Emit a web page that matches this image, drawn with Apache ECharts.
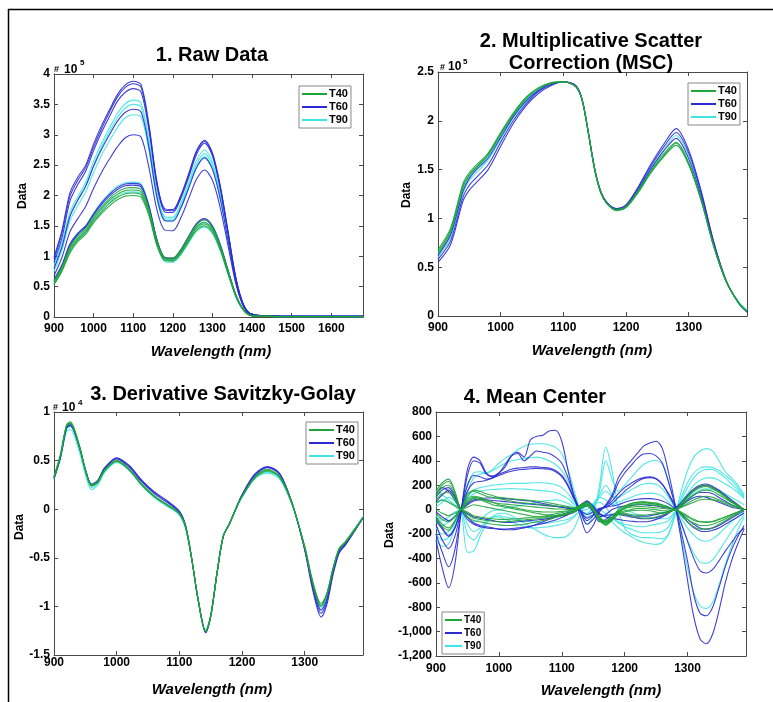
<!DOCTYPE html>
<html><head><meta charset="utf-8">
<script src="https://cdn.jsdelivr.net/npm/echarts/dist/echarts.min.js"></script>
<style>html,body{margin:0;padding:0;background:#fff}#c{width:773px;height:702px}</style>
</head><body><div id="c"></div>
<script>
// ---------- Panel 1: Raw data (units of 1e5) ----------
const wlRaw = [900,920,940,960,980,1000,1020,1040,1060,1080,1100,1120,1140,1160,1180,1200,1220,1240,1260,1280,1300,1320,1340,1360,1380,1400,1440,1500,1600,1680];
const rawB1 = [0.99,1.42,2.04,2.3,2.5,2.85,3.15,3.41,3.66,3.82,3.88,3.82,3.15,2.22,1.78,1.77,2.0,2.36,2.74,2.91,2.7,2.15,1.38,0.62,0.18,0.04,0.02,0.01,0.01,0.01];
const rawB2 = [0.95,1.38,1.98,2.25,2.46,2.8,3.1,3.37,3.62,3.78,3.84,3.78,3.12,2.2,1.76,1.75,1.98,2.34,2.72,2.89,2.68,2.13,1.37,0.61,0.18,0.04,0.02,0.01,0.01,0.01];
const rawB3 = [0.9,1.3,1.9,2.18,2.4,2.74,3.04,3.3,3.55,3.7,3.76,3.7,3.06,2.16,1.73,1.72,1.95,2.3,2.68,2.86,2.65,2.1,1.35,0.6,0.17,0.04,0.02,0.01,0.01,0.01];
const rawB4 = [0.8,1.15,1.65,1.92,2.15,2.48,2.76,3.0,3.22,3.37,3.42,3.37,2.78,1.97,1.59,1.58,1.79,2.12,2.46,2.62,2.43,1.93,1.24,0.55,0.16,0.04,0.02,0.01,0.01,0.01];
const rawB5 = [0.68,0.98,1.4,1.62,1.82,2.12,2.38,2.6,2.8,2.95,3.0,2.96,2.45,1.76,1.43,1.42,1.63,1.95,2.27,2.42,2.25,1.79,1.15,0.52,0.15,0.04,0.02,0.01,0.01,0.01];
const rawB6 = [0.6,0.84,1.17,1.36,1.48,1.68,1.85,1.99,2.1,2.16,2.17,2.14,1.8,1.26,0.98,0.97,1.11,1.33,1.54,1.62,1.5,1.19,0.76,0.35,0.11,0.02,0.01,0.005,0.005,0.005];
const rawB7 = [0.62,0.86,1.2,1.38,1.5,1.7,1.88,2.02,2.13,2.19,2.2,2.17,1.82,1.27,0.97,0.96,1.1,1.32,1.53,1.6,1.48,1.17,0.75,0.34,0.1,0.02,0.01,0.005,0.005,0.005];
const rawC1 = [0.85,1.22,1.72,1.98,2.22,2.56,2.86,3.11,3.35,3.51,3.57,3.52,2.9,2.05,1.65,1.64,1.87,2.22,2.58,2.75,2.55,2.03,1.31,0.58,0.17,0.04,0.02,0.01,0.01,0.01];
const rawC2 = [0.8,1.17,1.67,1.93,2.17,2.5,2.8,3.05,3.28,3.44,3.5,3.45,2.85,2.02,1.62,1.61,1.83,2.17,2.52,2.69,2.5,1.99,1.28,0.57,0.17,0.04,0.02,0.01,0.01,0.01];
const rawC3 = [0.75,1.1,1.58,1.83,2.06,2.38,2.66,2.9,3.12,3.28,3.33,3.29,2.72,1.94,1.58,1.58,1.8,2.13,2.47,2.64,2.45,1.95,1.26,0.56,0.16,0.04,0.02,0.01,0.01,0.01];
const rawC4 = [0.58,0.82,1.16,1.36,1.5,1.71,1.89,2.04,2.15,2.21,2.22,2.19,1.83,1.27,0.96,0.94,1.07,1.28,1.48,1.55,1.44,1.13,0.72,0.33,0.1,0.02,0.01,0.005,0.005,0.005];
const rawC5 = [0.55,0.78,1.1,1.28,1.4,1.6,1.75,1.89,1.99,2.05,2.06,2.03,1.7,1.18,0.91,0.9,1.02,1.22,1.41,1.48,1.37,1.08,0.69,0.32,0.1,0.02,0.01,0.005,0.005,0.005];
const rawG1 = [0.53,0.75,1.05,1.24,1.36,1.55,1.7,1.83,1.93,1.99,2.0,1.97,1.66,1.17,0.93,0.92,1.04,1.24,1.43,1.5,1.39,1.1,0.7,0.32,0.1,0.02,0.01,0.005,0.005,0.005];
const rawG2 = [0.55,0.77,1.08,1.27,1.39,1.58,1.73,1.87,1.97,2.03,2.04,2.01,1.7,1.19,0.94,0.93,1.06,1.26,1.46,1.53,1.42,1.12,0.71,0.33,0.1,0.02,0.01,0.005,0.005,0.005];
const rawG3 = [0.57,0.8,1.12,1.3,1.42,1.62,1.78,1.92,2.02,2.08,2.09,2.06,1.74,1.22,0.96,0.95,1.08,1.29,1.49,1.56,1.45,1.14,0.73,0.34,0.1,0.02,0.01,0.005,0.005,0.005];
const rawG4 = [0.6,0.83,1.15,1.33,1.45,1.65,1.81,1.95,2.06,2.12,2.13,2.1,1.77,1.25,0.98,0.97,1.1,1.32,1.52,1.6,1.48,1.17,0.75,0.35,0.11,0.02,0.01,0.005,0.005,0.005];

// ---------- Panel 2: MSC (units of 1e5) ----------
const wlMsc = [900,920,940,950,960,980,1000,1020,1040,1060,1080,1100,1120,1130,1140,1150,1160,1170,1185,1200,1220,1240,1260,1280,1300,1320,1340,1360,1380,1393];
const mscG1 = [0.68,0.9,1.36,1.47,1.54,1.67,1.88,2.08,2.24,2.34,2.39,2.4,2.35,2.21,1.87,1.5,1.26,1.15,1.08,1.11,1.27,1.47,1.63,1.75,1.55,1.18,0.71,0.35,0.13,0.05];
const mscG2 = [0.66,0.88,1.34,1.45,1.52,1.66,1.87,2.07,2.23,2.33,2.39,2.4,2.35,2.21,1.87,1.5,1.26,1.15,1.09,1.12,1.28,1.48,1.64,1.77,1.56,1.19,0.71,0.35,0.13,0.05];
const mscG3 = [0.64,0.86,1.32,1.44,1.51,1.65,1.86,2.06,2.22,2.33,2.38,2.4,2.35,2.21,1.87,1.5,1.26,1.15,1.09,1.12,1.29,1.49,1.66,1.78,1.57,1.19,0.72,0.35,0.13,0.05];
const mscB1 = [0.55,0.73,1.18,1.29,1.36,1.5,1.74,1.97,2.15,2.28,2.36,2.4,2.36,2.22,1.88,1.51,1.27,1.16,1.1,1.14,1.33,1.56,1.76,1.92,1.7,1.28,0.76,0.36,0.13,0.04];
const mscB2 = [0.58,0.77,1.22,1.34,1.41,1.55,1.78,2.0,2.17,2.3,2.37,2.4,2.36,2.22,1.88,1.51,1.27,1.16,1.1,1.13,1.32,1.54,1.73,1.88,1.67,1.26,0.75,0.36,0.13,0.04];
const mscB3 = [0.62,0.83,1.28,1.41,1.49,1.62,1.83,2.04,2.2,2.31,2.38,2.4,2.35,2.21,1.87,1.5,1.26,1.15,1.09,1.12,1.3,1.51,1.69,1.82,1.61,1.22,0.73,0.35,0.13,0.05];
const mscC1 = [0.6,0.8,1.26,1.39,1.46,1.6,1.81,2.03,2.19,2.31,2.37,2.4,2.35,2.21,1.87,1.5,1.26,1.15,1.09,1.12,1.3,1.52,1.7,1.85,1.64,1.24,0.74,0.36,0.14,0.06];
const mscC2 = [0.63,0.85,1.3,1.43,1.5,1.64,1.85,2.05,2.21,2.32,2.38,2.4,2.35,2.21,1.87,1.5,1.26,1.15,1.08,1.11,1.27,1.47,1.64,1.75,1.55,1.18,0.71,0.35,0.14,0.06];

// ---------- Panel 3: Savitzky-Golay derivative (units of 1e4) ----------
const wlDer = [900,910,920,926,940,950,960,970,980,1000,1020,1040,1060,1080,1100,1110,1120,1130,1142,1150,1160,1170,1180,1190,1200,1220,1240,1260,1280,1300,1310,1320,1326,1335,1345,1355,1365,1380,1393];
const derG1 = [0.34,0.56,0.87,0.9,0.67,0.41,0.25,0.29,0.4,0.5,0.41,0.25,0.13,0.04,-0.05,-0.19,-0.53,-0.94,-1.26,-1.1,-0.66,-0.28,-0.15,0.0,0.13,0.32,0.4,0.33,0.05,-0.38,-0.67,-0.9,-0.97,-0.87,-0.61,-0.4,-0.33,-0.2,-0.08];
const derG2 = [0.33,0.55,0.86,0.89,0.66,0.4,0.24,0.28,0.39,0.49,0.4,0.25,0.13,0.05,-0.05,-0.19,-0.52,-0.93,-1.25,-1.1,-0.66,-0.28,-0.15,0.0,0.13,0.32,0.39,0.33,0.05,-0.39,-0.68,-0.92,-0.99,-0.88,-0.62,-0.41,-0.34,-0.21,-0.08];
const derG3 = [0.32,0.54,0.85,0.88,0.65,0.4,0.24,0.27,0.39,0.5,0.41,0.26,0.14,0.05,-0.04,-0.18,-0.52,-0.93,-1.26,-1.1,-0.66,-0.28,-0.15,0.0,0.13,0.33,0.41,0.34,0.06,-0.39,-0.69,-0.93,-1.0,-0.89,-0.62,-0.41,-0.34,-0.21,-0.09];
const derB1 = [0.31,0.52,0.83,0.86,0.65,0.41,0.26,0.3,0.42,0.53,0.45,0.3,0.18,0.09,-0.02,-0.17,-0.52,-0.94,-1.27,-1.11,-0.67,-0.28,-0.15,0.01,0.15,0.36,0.44,0.37,0.06,-0.42,-0.75,-1.02,-1.11,-0.99,-0.68,-0.45,-0.37,-0.22,-0.09];
const derB2 = [0.32,0.53,0.84,0.87,0.65,0.41,0.25,0.29,0.41,0.52,0.44,0.29,0.17,0.08,-0.03,-0.17,-0.52,-0.93,-1.27,-1.1,-0.66,-0.28,-0.15,0.0,0.14,0.35,0.43,0.36,0.06,-0.41,-0.73,-0.99,-1.07,-0.96,-0.66,-0.44,-0.36,-0.22,-0.09];
const derB3 = [0.33,0.54,0.85,0.88,0.66,0.41,0.25,0.29,0.41,0.52,0.43,0.28,0.16,0.07,-0.03,-0.18,-0.52,-0.93,-1.26,-1.1,-0.66,-0.28,-0.15,0.0,0.14,0.34,0.43,0.36,0.06,-0.4,-0.71,-0.96,-1.04,-0.93,-0.65,-0.43,-0.35,-0.21,-0.09];
const derC1 = [0.31,0.51,0.8,0.82,0.6,0.36,0.2,0.25,0.37,0.48,0.4,0.24,0.12,0.03,-0.06,-0.2,-0.53,-0.93,-1.25,-1.09,-0.65,-0.27,-0.14,0.0,0.12,0.31,0.37,0.31,0.04,-0.39,-0.68,-0.92,-0.99,-0.88,-0.62,-0.41,-0.34,-0.2,-0.08];
const derC2 = [0.32,0.53,0.83,0.85,0.63,0.38,0.22,0.27,0.38,0.49,0.41,0.25,0.13,0.04,-0.05,-0.19,-0.52,-0.93,-1.25,-1.1,-0.66,-0.28,-0.15,0.0,0.13,0.32,0.38,0.32,0.05,-0.4,-0.7,-0.95,-1.02,-0.91,-0.64,-0.42,-0.35,-0.21,-0.09];

// ---------- Panel 4: Mean center ----------
const wlMc = [900,910,920,930,940,950,960,970,980,990,1000,1010,1020,1030,1040,1050,1060,1070,1080,1090,1100,1110,1120,1130,1140,1150,1160,1170,1180,1190,1200,1210,1220,1230,1240,1250,1260,1270,1280,1290,1300,1310,1320,1330,1340,1350,1360,1370,1380,1390];
const mcB1 = [-250,-480,-640,-450,-20, 330,430,400,300,275, 300,350,440,470,430, 570,600,610,645,650, 560,320,100,-60,-190, -130,-20,40,120,260, 340,400,460,520,545, 560,500,300,50,-250, -580,-880,-1060,-1100,-1020, -830,-600,-420,-280,-160];
const mcB2 = [-200,-350,-468,-330,-10, 280,400,380,290,270, 300,370,440,460,400, 440,480,470,460,430, 380,260,110,-20,-120, -80,-10,30,100,220, 300,360,420,455,460, 440,380,220,40,-180, -420,-700,-850,-870,-800, -640,-470,-330,-220,-130];
const mcB3 = [-120,-250,-320,-220,0, 200,280,270,250,260, 290,310,330,340,345, 350,350,345,340,320, 280,200,90,-10,-90, -50,0,30,70,130, 180,215,245,262,268, 255,210,120,20,-110, -260,-400,-500,-520,-490, -420,-340,-270,-200,-150];
const mcB4 = [-60,-150,-210,-150,0, 150,220,230,240,260, 280,300,315,325,330, 335,338,335,330,310, 270,190,80,-10,-70, -40,0,20,50,100, 150,190,230,255,262, 250,205,130,40,-40, -100,-150,-175,-180,-170, -150,-120,-90,-60,-30];
const mcB5 = [100,160,180,110,0, -80,-120,-140,-150,-155, -160,-160,-155,-150,-145, -135,-125,-115,-100,-85, -65,-40,-15,20,60, 20,-30,-60,-70,-80, -90,-95,-100,-100,-95, -80,-60,-30,10,60, 120,170,200,210,190, 160,120,80,40,0];
const mcB6 = [130,180,150,80,0, 40,70,80,80,75, 70,65,60,55,50, 45,40,35,30,25, 20,10,5,40,70, 10,-60,-40,0,20, 30,35,40,40,35, 30,20,10,0,40, 80,120,140,140,130, 100,70,40,20,0];
const mcB7 = [-20,-60,-90,-60,0, -60,-110,-130,-140,-150, -160,-165,-165,-160,-150, -140,-120,-100,-80,-60, -50,-40,-20,10,30, -20,-100,-80,-40,-30, -40,-50,-55,-55,-50, -40,-30,-15,0,30, 70,100,110,100,80, 60,40,20,10,0];
const mcB8 = [60,120,160,100,0, -30,-60,-70,-80,-90, -100,-105,-105,-100,-95, -90,-85,-80,-70,-55, -40,-25,-10,25,70, 30,-40,-50,-40,-40, -50,-60,-70,-75,-75, -65,-50,-25,5,50, 110,160,190,200,180, 150,110,70,35,0];
const mcB9 = [-90,-160,-220,-150,0, 50,80,90,95,95, 95,90,85,80,75, 70,60,50,40,30, 20,15,5,-10,-40, -20,10,20,30,40, 60,75,85,90,90, 85,70,45,10,-30, -80,-120,-150,-160,-150, -130,-100,-70,-40,-10];
const mcG1 = [150,220,250,150,0, 130,150,130,110,100, 90,80,70,60,55, 50,45,40,35,30, 25,20,10,30,40, 0,-80,-110,-70,-20, 20,40,50,55,50, 45,35,20,0,40, 100,150,180,190,170, 140,100,60,30,0];
const mcG2 = [100,180,200,120,0, 90,110,100,80,60, 40,30,20,10,0, -10,-15,-20,-20,-20, -15,-10,0,30,60, 10,-70,-130,-90,-30, 10,30,40,45,40, 35,25,15,0,30, 80,120,150,160,150, 120,90,60,30,0];
const mcG3 = [-30,-80,-100,-60,0, -60,-90,-100,-110,-120, -125,-130,-130,-125,-120, -110,-100,-90,-80,-65, -50,-35,-15,20,50, 0,-90,-120,-80,-40, -20,-10,-5,-5,-10, -20,-30,-20,0,-30, -60,-90,-100,-100,-95, -80,-60,-40,-20,0];
const mcG4 = [50,80,60,30,0, 60,90,80,60,40, 30,20,10,0,-10, -20,-30,-40,-45,-50, -45,-35,-20,20,40, 0,-70,-90,-60,-20, 20,50,60,65,60, 55,40,20,0,20, 50,80,100,110,100, 80,60,40,20,0];
const mcG5 = [0,-30,-50,-30,0, 20,40,30,20,10, 0,-10,-20,-30,-40, -50,-60,-60,-55,-50, -40,-30,-15,10,30, 0,-60,-100,-70,-30, -10,0,10,10,5, 0,-10,-10,0,-20, -50,-80,-100,-105,-100, -80,-60,-40,-20,0];
const mcG6 = [120,200,230,140,0, 110,160,150,130,115, 100,95,90,85,80, 75,70,65,55,45, 35,25,15,40,60, 10,-60,-100,-60,0, 30,50,60,60,55, 45,35,20,0,50, 110,160,200,200,180, 150,110,70,35,0];
const mcG7 = [-60,-120,-150,-90,0, -40,-70,-80,-90,-95, -100,-100,-95,-90,-85, -80,-75,-70,-60,-50, -40,-30,-15,15,40, 0,-80,-110,-70,-30, -30,-40,-45,-45,-40, -35,-25,-15,0,-40, -80,-110,-130,-130,-120, -100,-75,-50,-25,0];
const mcG8 = [80,130,140,80,0, 70,100,90,70,60, 50,45,40,35,30, 25,20,15,10,5, 5,0,0,25,45, 5,-70,-100,-60,-10, 10,20,25,25,20, 15,10,5,0,20, 40,60,80,85,80, 70,50,30,15,0];
const mcG9 = [-80,-140,-170,-100,0, -20,-50,-60,-70,-75, -80,-80,-78,-75,-70, -65,-60,-55,-45,-35, -25,-15,-5,20,45, 0,-85,-120,-80,-40, -40,-55,-65,-70,-70, -60,-45,-25,0,-50, -100,-140,-160,-160,-150, -120,-90,-60,-30,0];
const mcC1 = [-150,-200,-180,-100,0, 150,260,290,300,330, 380,420,450,490,520, 535,540,540,530,510, 460,330,150,-20,-120, -50,200,510,320,0, -150,-200,-220,-230,-230, -235,-240,-200,-50,150, 320,430,480,500,480, 400,310,260,200,120];
const mcC2 = [-250,-300,-280,-150,0, 200,300,310,300,320, 350,380,400,410,420, 425,430,420,400,370, 320,230,100,-20,-60, 0,150,400,250,150, 200,260,320,370,395, 405,370,230,30,-220, -480,-680,-790,-810,-760, -620,-450,-300,-170,-60];
const mcC3 = [-200,-250,-230,-120,0, 100,160,180,190,200, 205,210,215,215,215, 218,220,220,215,205, 180,130,60,-10,-40, 20,100,150,110,100, 130,160,190,210,215, 205,170,100,10,-120, -250,-360,-430,-440,-410, -340,-260,-180,-110,-40];
const mcC4 = [50,80,60,30,-20, -350,-340,-220,-120,-60, -30,-30,-50,-80,-110, -140,-170,-200,-220,-230, -230,-210,-150,-30,60, 20,-50,-60,-100,-150, -190,-220,-250,-270,-280, -285,-270,-200,-40,100, 220,300,340,350,345, 320,280,240,180,110];
const mcC5 = [-100,-130,-100,-50,0, 80,130,150,160,165, 168,170,172,170,168, 165,160,155,150,140, 120,90,40,-10,0, 50,100,80,40,60, 80,100,120,130,135, 130,110,60,0,-70, -150,-210,-250,-260,-240, -200,-150,-100,-60,-20];
const mcC6 = [20,60,100,70,0, -200,-250,-180,-100,-60, -60,-80,-100,-120,-140, -150,-150,-145,-140,-130, -120,-100,-60,0,40, 30,0,-30,-70,-110, -140,-160,-180,-190,-190, -190,-180,-140,-30,80, 180,260,310,330,330, 300,260,210,160,100];
const mcC7 = [-50,-90,-60,-20,0, -60,-100,-80,-40,-10, 0,10,20,30,40, 50,60,70,75,80, 70,50,20,-10,-30, 30,120,200,120,30, 0,-20,-40,-50,-60, -70,-75,-70,-20,30, 90,130,160,170,165, 150,130,100,70,40];
const mcC8 = [150,120,80,40,0, -120,-180,-150,-90,-60, -50,-60,-70,-80,-90, -100,-105,-110,-110,-100, -90,-80,-50,-10,30, 40,60,20,-50,-100, -120,-130,-140,-140,-130, -120,-110,-90,-20,60, 130,200,240,260,260, 240,210,180,140,90];

const groupNames = ['T40','T60','T90'];

// ---------- build ----------
const FONT = '"Liberation Sans", Arial, sans-serif';
const COL = {T40:'#1fa53a', T60:'#2b2bd2', T90:'#3fe4e4'};
const panels = [
  {grid:{left:54, top:74, width:309, height:243}, x:[900,1680,100], y:[0,4,0.5], xm:6,
   groups:{T90:[rawC1,rawC2,rawC3,rawC4,rawC5], T60:[rawB1,rawB2,rawB3,rawB4,rawB5,rawB6,rawB7], T40:[rawG1,rawG2,rawG3,rawG4]}, wl:wlRaw,
   legend:{left:299, top:86, w:25, fs:11}},
  {grid:{left:438, top:72, width:309, height:244}, x:[900,1393,100], y:[0,2.5,0.5], xm:6,
   groups:{T90:[mscC1,mscC2], T60:[mscB1,mscB2,mscB3], T40:[mscG1,mscG2,mscG3]}, wl:wlMsc,
   legend:{left:688, top:83, w:25, fs:11}},
  {grid:{left:54, top:412, width:309, height:243}, x:[900,1393,100], y:[-1.5,1,0.5], xm:2,
   groups:{T90:[derC1,derC2], T60:[derB1,derB2,derB3], T40:[derG1,derG2,derG3]}, wl:wlDer,
   legend:{left:306, top:422, w:25, fs:11}},
  {grid:{left:436, top:412, width:310, height:244}, x:[900,1393,100], y:[-1200,800,200], xm:7,
   groups:{T90:[mcC1,mcC2,mcC3,mcC4,mcC5,mcC6,mcC7,mcC8], T60:[mcB1,mcB2,mcB3,mcB4,mcB5,mcB6,mcB7,mcB8,mcB9], T40:[mcG1,mcG2,mcG3,mcG4,mcG5,mcG6,mcG7,mcG8,mcG9]}, wl:wlMc,
   legend:{left:442, top:612, w:17, fs:10}}
];

const grid=[], xAxis=[], yAxis=[], series=[], legend=[];
const axColor = '#4a4a4a';
panels.forEach((p, i) => {
  grid.push(Object.assign({containLabel:false}, p.grid));
  const lbl = {fontFamily:FONT, fontWeight:'bold', fontSize:12, color:'#000'};
  xAxis.push({type:'value', gridIndex:i, min:p.x[0], max:p.x[1], interval:p.x[2], position:'bottom',
    axisLine:{onZero:false, lineStyle:{color:axColor}}, axisTick:{inside:true, length:4, lineStyle:{color:axColor}},
    splitLine:{show:false}, axisLabel:Object.assign({margin:p.xm, formatter:v => (v % 100 === 0 ? String(v) : '')}, lbl)});
  xAxis.push({type:'value', gridIndex:i, min:p.x[0], max:p.x[1], interval:p.x[2], position:'top',
    axisLine:{onZero:false, lineStyle:{color:axColor}}, axisTick:{inside:true, length:4, lineStyle:{color:axColor}},
    splitLine:{show:false}, axisLabel:{show:false}});
  yAxis.push({type:'value', gridIndex:i, min:p.y[0], max:p.y[1], interval:p.y[2], position:'left',
    axisLine:{show:true, onZero:false, lineStyle:{color:axColor}}, axisTick:{show:true, inside:true, length:4, lineStyle:{color:axColor}},
    splitLine:{show:false}, axisLabel:Object.assign({margin:4}, lbl)});
  yAxis.push({type:'value', gridIndex:i, min:p.y[0], max:p.y[1], interval:p.y[2], position:'right',
    axisLine:{show:true, onZero:false, lineStyle:{color:axColor}}, axisTick:{show:true, inside:true, length:4, lineStyle:{color:axColor}},
    splitLine:{show:false}, axisLabel:{show:false}});
  ['T90','T60','T40'].forEach(name => {
    p.groups[name].forEach(ys => {
      series.push({type:'line', name, xAxisIndex:2*i, yAxisIndex:2*i, data:p.wl.map((x,k)=>[x, ys[k]]),
        showSymbol:false, symbol:'none', smooth:0.3, animation:false, silent:true,
        lineStyle:{width:1.1, color:COL[name], opacity:0.9}, itemStyle:{color:COL[name]}});
    });
  });
  legend.push({data:groupNames, left:p.legend.left, top:p.legend.top, orient:'vertical', icon:'rect',
    itemWidth:p.legend.w, itemHeight:2, itemGap:1, padding:[2,3,2,3], borderColor:'#888', borderWidth:1,
    backgroundColor:'#fff', selectedMode:false, z:10,
    textStyle:{fontFamily:FONT, fontWeight:'bold', fontSize:p.legend.fs, color:'#000', lineHeight:12, padding:[0,0,0,-3]}});
});

function txt(text, x, y, font, align, valign, rot){
  return {type:'text', x, y, rotation:rot||0, z:20,
    style:{text, font, fill:'#000', textAlign:align||'center', textVerticalAlign:valign||'middle', align:align||'center', verticalAlign:valign||'middle'}};
}
const TF = 'bold 20px ' + FONT;
const XF = 'italic bold 15px ' + FONT;
const YF = 'bold 12px ' + FONT;
const graphic = [
  {type:'line', shape:{x1:8, y1:9.5, x2:773, y2:9.5}, style:{stroke:'#000', lineWidth:1.5}},
  {type:'line', shape:{x1:8.5, y1:9, x2:8.5, y2:702}, style:{stroke:'#000', lineWidth:1.5}},
  txt('1. Raw Data', 212, 55, TF),
  txt('2. Multiplicative Scatter', 591, 41, TF),
  txt('Correction (MSC)', 591, 63, TF),
  txt('3. Derivative Savitzky-Golay', 223, 394, TF),
  txt('4. Mean Center', 535, 397, TF),
  txt('Wavelength (nm)', 211, 352, XF),
  txt('Wavelength (nm)', 592, 351, XF),
  txt('Wavelength (nm)', 212, 690, XF),
  txt('Wavelength (nm)', 601, 691, XF),
  txt('Data', 23, 196, YF, 'center', 'middle', Math.PI/2),
  txt('Data', 407, 195, YF, 'center', 'middle', Math.PI/2),
  txt('Data', 20, 527, YF, 'center', 'middle', Math.PI/2),
  txt('Data', 390, 535, YF, 'center', 'middle', Math.PI/2),
  txt('#', 54, 74, 'bold 9px ' + FONT, 'left', 'bottom'),
  txt('10', 64, 75.5, 'bold 12px ' + FONT, 'left', 'bottom'),
  txt('5', 80, 67, 'bold 8px ' + FONT, 'left', 'bottom'),
  txt('#', 440, 72, 'bold 9px ' + FONT, 'left', 'bottom'),
  txt('10', 448, 72.5, 'bold 12px ' + FONT, 'left', 'bottom'),
  txt('5', 463, 66, 'bold 8px ' + FONT, 'left', 'bottom'),
  txt('#', 53, 412, 'bold 9px ' + FONT, 'left', 'bottom'),
  txt('10', 62, 413.5, 'bold 12px ' + FONT, 'left', 'bottom'),
  txt('4', 78, 407, 'bold 8px ' + FONT, 'left', 'bottom')
];

const chart = echarts.init(document.getElementById('c'), null, {renderer:'canvas'});
chart.setOption({animation:false, backgroundColor:'#fff', grid, xAxis, yAxis, series, legend, graphic});
</script></body></html>
